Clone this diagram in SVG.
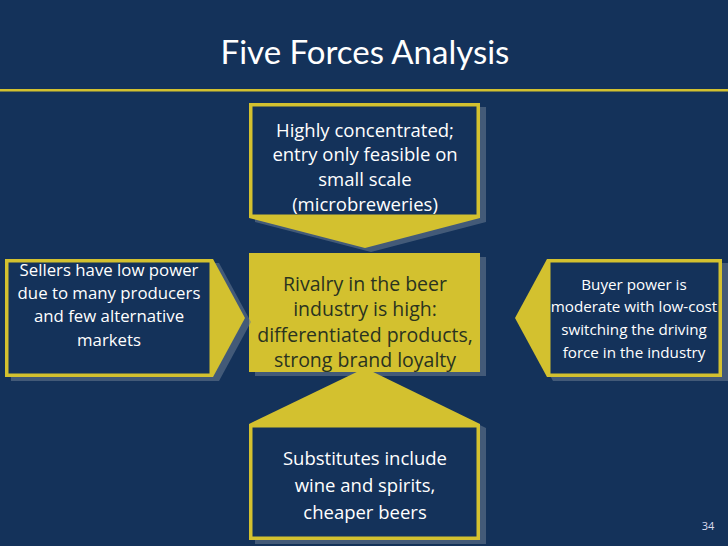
<svg xmlns="http://www.w3.org/2000/svg" width="728" height="546" viewBox="0 0 728 546">
<style>
.y{fill:#d3c12f}.d{fill:#14325a}.s{fill:#6a7b92;opacity:.55}
text{font-family:"Open Sans","DejaVu Sans",sans-serif;text-anchor:middle}
.w{fill:#fff}.c{fill:#2a3320}
</style>
<rect width="728" height="546" fill="#14325a"/>
<text x="365" y="64" class="w" font-size="33" style="font-family:Lato,'Open Sans',sans-serif">Five Forces Analysis</text>
<rect x="0" y="89" width="728" height="2.5" fill="#d3c12f"/>
<g id="top">
<path class="s" d="M255,107H486V222L371,252L255,222Z"/>
<path class="y" d="M249,103H480V218L365,248L249,218Z"/>
<rect class="d" x="252.5" y="106.5" width="224" height="108"/>
<text class="w" font-size="18.5"><tspan x="365" y="137">Highly concentrated;</tspan><tspan x="365" y="161">entry only feasible on</tspan><tspan x="365" y="186">small scale</tspan><tspan x="365" y="211">(microbreweries)</tspan></text>
</g>
<g id="center">
<rect class="s" x="255" y="257" width="231" height="119"/>
<rect class="y" x="249" y="253" width="231" height="119"/>
<text class="c" font-size="19.5"><tspan x="365" y="291">Rivalry in the beer</tspan><tspan x="365" y="316">industry is high:</tspan><tspan x="365" y="342">differentiated products,</tspan><tspan x="365" y="367">strong brand loyalty</tspan></text>
</g>
<g id="left">
<path class="s" d="M11,263H219L251,322L219,381H11Z"/>
<path class="y" d="M5,259H213L245,318L213,377H5Z"/>
<rect class="d" x="8.5" y="262.5" width="201" height="111"/>
<text class="w" font-size="16.8"><tspan x="109" y="276">Sellers have low power</tspan><tspan x="109" y="299">due to many producers</tspan><tspan x="109" y="322">and few alternative</tspan><tspan x="109" y="346">markets</tspan></text>
</g>
<g id="right">
<path class="s" d="M521,322L553,263H728V381H553Z"/>
<path class="y" d="M515,318L547,259H722V377H547Z"/>
<rect class="d" x="550.5" y="262.5" width="168" height="111"/>
<text class="w" font-size="15.2"><tspan x="634" y="290">Buyer power is</tspan><tspan x="634" y="312">moderate with low-cost</tspan><tspan x="634" y="335">switching the driving</tspan><tspan x="634" y="358">force in the industry</tspan></text>
</g>
<g id="bottom">
<path class="s" d="M371,372L486,428V544H255V428Z"/>
<path class="y" d="M365,368L480,424V540H249V424Z"/>
<rect class="d" x="252.5" y="427.5" width="224" height="109"/>
<text class="w" font-size="18.5"><tspan x="365" y="465">Substitutes include</tspan><tspan x="365" y="492">wine and spirits,</tspan><tspan x="365" y="519">cheaper beers</tspan></text>
</g>
<g id="connectors"/>
<text x="708" y="530" class="w" font-size="11" style="fill:#dde">34</text>
</svg>
